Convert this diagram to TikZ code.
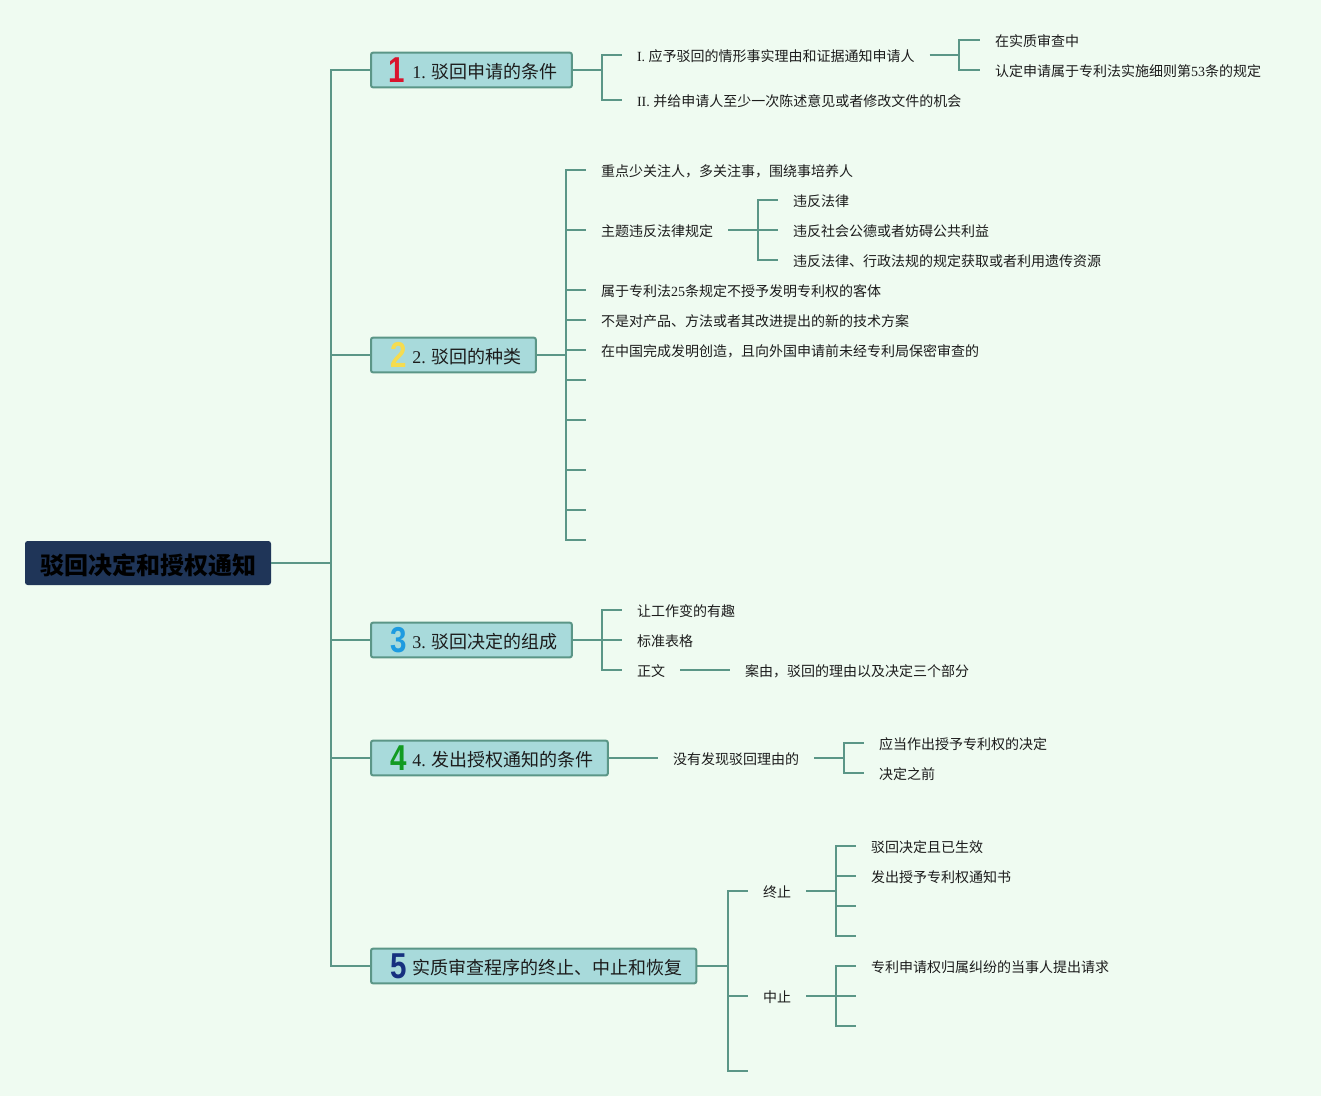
\documentclass[tikz,border=0pt]{standalone}
\usepackage{fontspec}
\setmainfont{Liberation Serif}
\newfontfamily\cjk{Noto Sans CJK SC}
\newfontfamily\numfont{Liberation Sans}
\newcommand{\lat}[1]{{\rmfamily #1}}
\newcommand{\bignum}[1]{\scalebox{0.82}[1]{#1}}
\definecolor{PageMint}{RGB}{239, 251, 241}
\definecolor{BranchTeal}{RGB}{91, 150, 135}
\definecolor{TopicAqua}{RGB}{168, 218, 219}
\definecolor{RootNavy}{RGB}{31, 53, 88}
\definecolor{InkDark}{RGB}{28, 28, 28}
\tikzset{
  branch/.style={draw=BranchTeal, line width=1.5pt},
  leaf/.style={anchor=west, inner xsep=11.25pt, inner ysep=0pt, outer sep=0pt, text=InkDark,
    text height=10pt, text depth=0.5pt, font=\fontsize{10.5}{12}\cjk},
  topic/.style={anchor=west, draw=BranchTeal, fill=TopicAqua, line width=1.5pt, rounded corners=1.5pt,
    inner xsep=10.5pt, inner ysep=0pt, outer sep=0pt, minimum height=26pt, text=InkDark,
    text height=12.5pt, text depth=0.5pt, font=\fontsize{13.5}{15}\cjk,
    execute at begin node={\hspace*{20.5pt}}},
  root/.style={anchor=west, fill=RootNavy, rounded corners=2pt, inner xsep=11.25pt, inner ysep=0pt,
    outer sep=0pt, minimum height=33pt, text=black, text height=17pt, text depth=0.5pt,
    font=\fontsize{18}{20}\cjk\bfseries},
  digit/.style={inner sep=0pt, font=\fontsize{27}{29}\numfont\bfseries}
}
\begin{document}
\begin{tikzpicture}[x=0.75pt, y=-0.75pt]
    \fill[PageMint, use as bounding box] (0, 0) rectangle (1321, 1096);

    % Root
    \node[root] (root) at (25, 563) {驳回决定和授权通知};
    \coordinate (spine) at (331, 563);
    \draw[branch] (root.east) -- (spine);

    % Topics
    \node[topic] (t1) at (371, 70) {\lat{1. }驳回申请的条件};
    \node[topic] (t2) at (371, 355) {\lat{2. }驳回的种类};
    \node[topic] (t3) at (371, 640) {\lat{3. }驳回决定的组成};
    \node[topic] (t4) at (371, 758) {\lat{4. }发出授权通知的条件};
    \node[topic] (t5) at (371, 966) {实质审查程序的终止、中止和恢复};
    \node[digit, text={rgb,255:red,217;green,20;blue,45}] (n1) at (397, 70) {\bignum{1}};
    \node[digit, text={rgb,255:red,245;green,220;blue,80}] (n2) at (399, 355) {\bignum{2}};
    \node[digit, text={rgb,255:red,30;green,155;blue,224}] (n3) at (399, 640) {\bignum{3}};
    \node[digit, text={rgb,255:red,18;green,155;blue,34}] (n4) at (399, 758) {\bignum{4}};
    \node[digit, text={rgb,255:red,22;green,48;blue,127}] (n5) at (399, 966) {\bignum{5}};
    \draw[branch] (t1.west) -| (spine);
    \draw[branch] (t2.west) -- (t2.west -| spine);
    \draw[branch] (t3.west) -- (t3.west -| spine);
    \draw[branch] (t4.west) -- (t4.west -| spine);
    \draw[branch] (t5.west) -| (spine);

    % Topic 1
    \node[leaf] (a1) at (622, 55) {\lat{I. }应予驳回的情形事实理由和证据通知申请人};
    \node[leaf] (a2) at (622, 100) {\lat{II. }并给申请人至少一次陈述意见或者修改文件的机会};
    \node[leaf] (a11) at (980, 40) {在实质审查中};
    \node[leaf] (a12) at (980, 70) {认定申请属于专利法实施细则第\lat{53}条的规定};
    \coordinate (busa) at (602, 70);
    \coordinate (busb) at (959, 55);
    \draw[branch] (t1.east) -- (busa) |- (a1.west);
    \draw[branch] (busa) |- (a2.west);
    \draw[branch] (a1.east) -- (busb) |- (a11.west);
    \draw[branch] (busb) |- (a12.west);

    % Topic 2
    \node[leaf] (b1) at (586, 170) {重点少关注人，多关注事，围绕事培养人};
    \node[leaf] (b2) at (586, 230) {主题违反法律规定};
    \node[leaf] (b3) at (586, 290) {属于专利法\lat{25}条规定不授予发明专利权的客体};
    \node[leaf] (b4) at (586, 320) {不是对产品、方法或者其改进提出的新的技术方案};
    \node[leaf] (b5) at (586, 350) {在中国完成发明创造，且向外国申请前未经专利局保密审查的};
    \node[leaf] (b21) at (778, 200) {违反法律};
    \node[leaf] (b22) at (778, 230) {违反社会公德或者妨碍公共利益};
    \node[leaf] (b23) at (778, 260) {违反法律、行政法规的规定获取或者利用遗传资源};
    \coordinate (b6) at (586, 380);
    \coordinate (b7) at (586, 420);
    \coordinate (b8) at (586, 470);
    \coordinate (b9) at (586, 510);
    \coordinate (b10) at (586, 540);
    \coordinate (busc) at (566, 355);
    \coordinate (busd) at (758, 230);
    \draw[branch] (t2.east) -- (busc);
    \draw[branch] (busc) |- (b1.west);
    \draw[branch] (busc) |- (b2.west);
    \draw[branch] (busc) |- (b3.west);
    \draw[branch] (busc) |- (b4.west);
    \draw[branch] (busc) |- (b5.west);
    \draw[branch] (busc) |- (b6);
    \draw[branch] (busc) |- (b7);
    \draw[branch] (busc) |- (b8);
    \draw[branch] (busc) |- (b9);
    \draw[branch] (busc) |- (b10);
    \draw[branch] (b2.east) -- (b22.west);
    \draw[branch] (busd) |- (b21.west);
    \draw[branch] (busd) |- (b23.west);

    % Topic 3
    \node[leaf] (c1) at (622, 610) {让工作变的有趣};
    \node[leaf] (c2) at (622, 640) {标准表格};
    \node[leaf] (c3) at (622, 670) {正文};
    \node[leaf] (c31) at (730, 670) {案由，驳回的理由以及决定三个部分};
    \coordinate (buse) at (602, 640);
    \draw[branch] (t3.east) -- (c2.west);
    \draw[branch] (buse) |- (c1.west);
    \draw[branch] (buse) |- (c3.west);
    \draw[branch] (c3.east) -- (c31.west);

    % Topic 4
    \node[leaf] (d1) at (658, 758) {没有发现驳回理由的};
    \node[leaf] (d11) at (864, 743) {应当作出授予专利权的决定};
    \node[leaf] (d12) at (864, 773) {决定之前};
    \coordinate (busf) at (844, 758);
    \draw[branch] (t4.east) -- (d1.west);
    \draw[branch] (d1.east) -- (busf) |- (d11.west);
    \draw[branch] (busf) |- (d12.west);

    % Topic 5
    \node[leaf] (e1) at (748, 891) {终止};
    \node[leaf] (e2) at (748, 996) {中止};
    \node[leaf] (e11) at (856, 846) {驳回决定且已生效};
    \node[leaf] (e12) at (856, 876) {发出授予专利权通知书};
    \node[leaf] (e21) at (856, 966) {专利申请权归属纠纷的当事人提出请求};
    \coordinate (e3) at (748, 1071);
    \coordinate (e13) at (856, 906);
    \coordinate (e14) at (856, 936);
    \coordinate (e22) at (856, 996);
    \coordinate (e23) at (856, 1026);
    \coordinate (busg) at (728, 966);
    \coordinate (bush) at (836, 891);
    \coordinate (busi) at (836, 996);
    \draw[branch] (t5.east) -- (busg) |- (e1.west);
    \draw[branch] (busg) |- (e2.west);
    \draw[branch] (busg) |- (e3);
    \draw[branch] (e1.east) -- (bush) |- (e11.west);
    \draw[branch] (bush) |- (e12.west);
    \draw[branch] (bush) |- (e13);
    \draw[branch] (bush) |- (e14);
    \draw[branch] (e2.east) -- (busi) |- (e21.west);
    \draw[branch] (busi) |- (e22);
    \draw[branch] (busi) |- (e23);
\end{tikzpicture}
\end{document}
